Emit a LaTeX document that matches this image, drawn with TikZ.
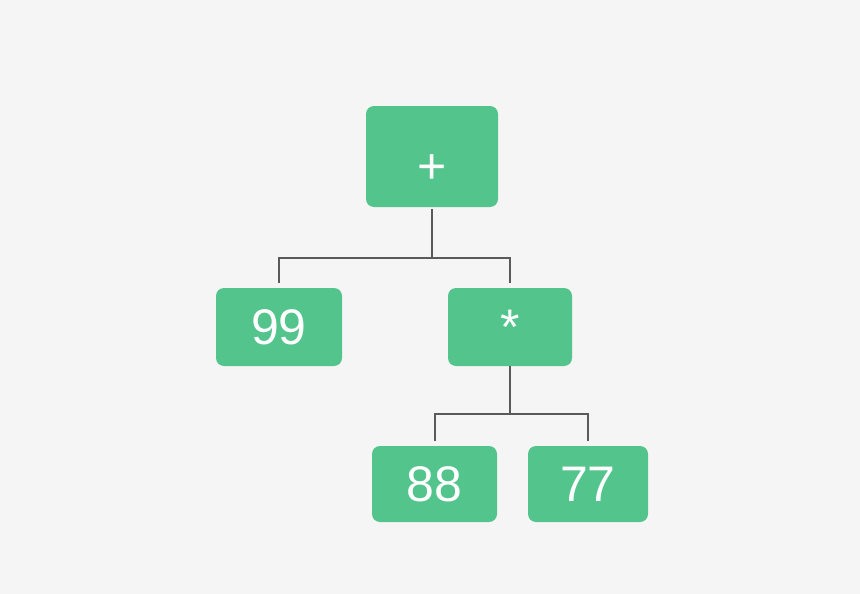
\documentclass[tikz,border=0pt]{standalone}
\usepackage{fontspec}
\setmainfont{Liberation Sans}
\usetikzlibrary{positioning}

\definecolor{leafgreen}{HTML}{52C48C}
\definecolor{bggray}{HTML}{F5F5F5}
\definecolor{linkgray}{HTML}{5A5A5A}

\tikzset{
	tnode/.style={fill=leafgreen, rounded corners=8pt, inner sep=0pt,
		text=white, font=\fontsize{50}{60}\selectfont},
	link/.style={draw=linkgray, line width=2pt, shorten >=5pt}
}

\begin{document}
\begin{tikzpicture}[x=1pt, y=-1pt]
		\fill[bggray] (0,0) rectangle (860,594);
		\useasboundingbox (0,0) rectangle (860,594);

		\draw (432,156.5) node [tnode, minimum width=132pt, minimum height=101pt, text height=54pt, text depth=0pt] (plus) {+};
		\draw (279,327) node [tnode, minimum width=126pt, minimum height=78pt] (n99) {99};
		\draw (510,327) node [tnode, minimum width=124pt, minimum height=78pt] (times) {*};
		\draw (434.5,484) node [tnode, minimum width=125pt, minimum height=76pt] (n88) {88};
		\draw (588,484) node [tnode, minimum width=120pt, minimum height=76pt] (n77) {77};

		\coordinate (j1) at (432,258);
		\coordinate (j2) at (510,414);

		\draw[link, shorten <=2pt] (plus) -- (j1) -| (n99);
		\draw[link] (j1) -| (times);
		\draw[link] (times) -- (j2) -| (n88);
		\draw[link] (j2) -| (n77);
	\end{tikzpicture}
\end{document}
